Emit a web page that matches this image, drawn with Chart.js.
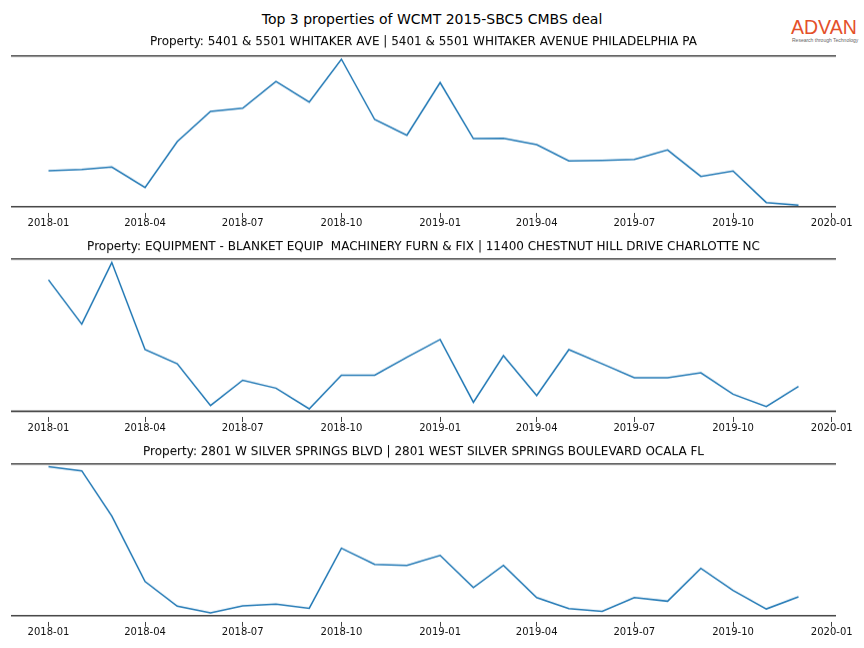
<!DOCTYPE html>
<html>
<head>
<meta charset="utf-8">
<script src="https://cdn.jsdelivr.net/npm/chart.js@4"></script>
<style>
  html, body { margin: 0; padding: 0; background: #fff; }
  body { width: 864px; height: 648px; position: relative; overflow: hidden; font-family: "DejaVu Sans", sans-serif; }
  #suptitle { position: absolute; left: 0; width: 864px; top: 10px; text-align: center; font-size: 14px; line-height: 18px; color: #000; }
  #logo { position: absolute; left: 791px; top: 16px; width: 70px; font-family: "Liberation Sans", Arial, sans-serif; }
  #logo .brand { font-size: 19.5px; line-height: 22px; color: #e4502a; }
  #logo .tag { font-size: 5px; line-height: 5px; color: #666; white-space: nowrap; margin-left: 1px; }
  .panel { position: absolute; left: 0; width: 864px; }
</style>
</head>
<body>
<div id="suptitle">Top 3 properties of WCMT 2015-SBC5 CMBS deal</div>
<div id="logo"><div class="brand">ADVAN</div><div class="tag">Research through Technology</div></div>
<div class="panel" id="p0"><canvas id="c0"></canvas></div>
<div class="panel" id="p1"><canvas id="c1"></canvas></div>
<div class="panel" id="p2"><canvas id="c2"></canvas></div>
<script>
// ---- data ----
const months = ['2018-01','2018-02','2018-03','2018-04','2018-05','2018-06','2018-07','2018-08','2018-09','2018-10','2018-11','2018-12',
                '2019-01','2019-02','2019-03','2019-04','2019-05','2019-06','2019-07','2019-08','2019-09','2019-10','2019-11','2019-12'];
const tickLabels = ['2018-01','2018-04','2018-07','2018-10','2019-01','2019-04','2019-07','2019-10','2020-01'];
const titles = [
  'Property: 5401 & 5501 WHITAKER AVE | 5401 & 5501 WHITAKER AVENUE PHILADELPHIA PA',
  'Property: EQUIPMENT - BLANKET EQUIP  MACHINERY FURN & FIX | 11400 CHESTNUT HILL DRIVE CHARLOTTE NC',
  'Property: 2801 W SILVER SPRINGS BLVD | 2801 WEST SILVER SPRINGS BOULEVARD OCALA FL'
];
const whitaker = [23.8, 24.7, 26.3, 12.7, 43.1, 63.1, 65.3, 83.1, 69.3, 97.8, 57.8, 47.3,
                  82.3, 45.1, 45.3, 41.1, 30.3, 30.7, 31.3, 37.6, 20.0, 23.6, 2.7, 0.9];
const chestnutHill = [86.2, 57.2, 97.6, 40.5, 31.2, 3.8, 20.4, 15.2, 1.6, 23.7, 23.7, 35.4,
                      47.1, 5.9, 36.5, 10.3, 40.5, 31.2, 22.0, 22.0, 25.3, 11.2, 3.1, 16.3];
const silverSprings = [98.2, 95.4, 65.6, 22.5, 6.2, 1.8, 6.4, 7.5, 4.8, 44.4, 33.8, 33.1,
                       39.7, 18.5, 33.1, 11.9, 4.6, 2.8, 11.9, 9.5, 31.1, 16.6, 4.4, 12.4];
const seriesList = [whitaker, chestnutHill, silverSprings];

// ---- helpers ----
function dayOffset(s) {
  const p = s.split('-').map(Number);
  return (Date.UTC(p[0], p[1] - 1, 1) - Date.UTC(2018, 0, 1)) / 86400000;
}
const xs = months.map(dayOffset);
const span = xs[xs.length - 1] - xs[0];
const xMin = xs[0] - 0.05 * span;
const xMax = xs[xs.length - 1] + 0.05 * span;
const tickValues = tickLabels.map(dayOffset);
const labelFor = {};
tickLabels.forEach((l, i) => { labelFor[tickValues[i]] = l; });

const spinePlugin = {
  id: 'spines',
  afterDraw(chart) {
    const a = chart.chartArea, ctx = chart.ctx;
    ctx.save();
    ctx.strokeStyle = '#444';
    ctx.lineWidth = 1.6;
    ctx.beginPath();
    ctx.moveTo(a.left, a.top); ctx.lineTo(a.right, a.top);
    ctx.moveTo(a.left, a.bottom); ctx.lineTo(a.right, a.bottom);
    ctx.stroke();
    ctx.restore();
  }
};

const chartTops = [55.7, 259, 464];
const plotHeights = [150, 151.7, 151];
const titlePadTop = [7, 9, 9];
const titlePadBottom = [6.3, 4.3, 4.3];
const TITLE_BLOCK = 27.7;
const AXIS_H = 23;

seriesList.forEach((vals, i) => {
  const wrap = document.getElementById('p' + i);
  wrap.style.top = (chartTops[i] - TITLE_BLOCK) + 'px';
  wrap.style.height = (TITLE_BLOCK + plotHeights[i] + AXIS_H) + 'px';
  new Chart(document.getElementById('c' + i), {
    type: 'line',
    data: {
      datasets: [{
        data: vals.map((v, k) => ({ x: xs[k], y: v })),
        borderColor: '#1f77b4',
        borderWidth: 1.5,
        pointRadius: 0,
        fill: false,
        tension: 0
      }]
    },
    options: {
      responsive: true,
      maintainAspectRatio: false,
      animation: false,
      layout: { padding: { left: 11, right: 28, top: 0, bottom: 0 } },
      plugins: {
        legend: { display: false },
        tooltip: { enabled: false },
        title: {
          display: true,
          text: titles[i],
          color: '#000',
          font: { family: 'DejaVu Sans', size: 12, weight: 'normal', lineHeight: 1.2 },
          padding: { top: titlePadTop[i], bottom: titlePadBottom[i] }
        }
      },
      scales: {
        x: {
          type: 'linear',
          min: xMin,
          max: xMax,
          afterBuildTicks(scale) { scale.ticks = tickValues.map(v => ({ value: v })); },
          ticks: {
            callback: (v) => labelFor[v] || '',
            color: '#111',
            font: { family: 'DejaVu Sans', size: 10 },
            padding: 0,
            maxRotation: 0,
            autoSkip: false
          },
          grid: {
            drawOnChartArea: false,
            drawTicks: true,
            tickLength: 11,
            tickColor: '#444',
            tickWidth: 1,
            tickBorderDash: [0, 6, 5, 40]
          },
          border: { display: false }
        },
        y: {
          display: false,
          min: 0,
          max: 100
        }
      }
    },
    plugins: [spinePlugin]
  });
});
</script>
</body>
</html>
